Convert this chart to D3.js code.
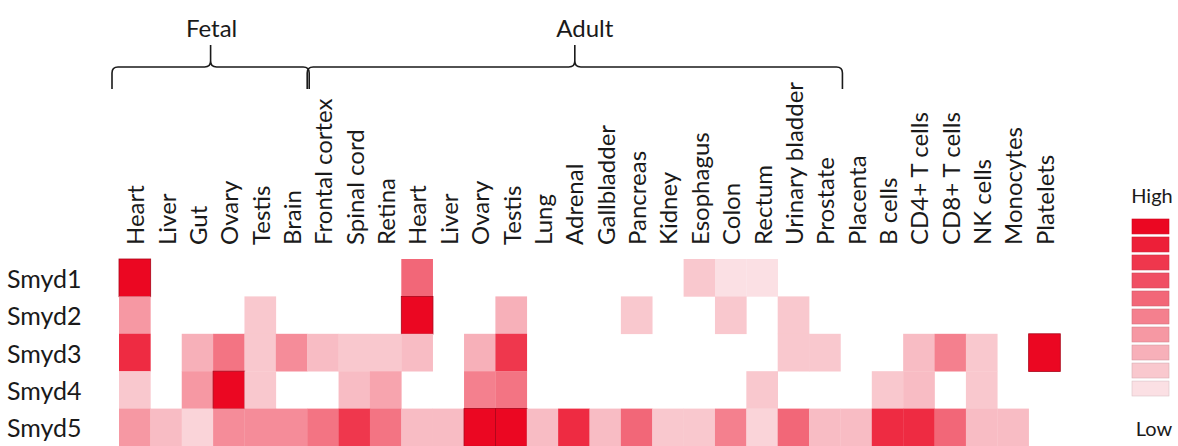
<!DOCTYPE html>
<html>
<head>
<meta charset="utf-8">
<script src="https://cdn.jsdelivr.net/npm/d3@7"></script>
<style>
  body { margin: 0; background: #fff; }
  text { font-family: Lato, "Open Sans", sans-serif; fill: #1a1a1a; }
</style>
</head>
<body>
<svg id="chart" width="1178" height="446"></svg>
<script>
const tissues = ["Heart", "Liver", "Gut", "Ovary", "Testis", "Brain",
  "Frontal cortex", "Spinal cord", "Retina", "Heart", "Liver", "Ovary", "Testis",
  "Lung", "Adrenal", "Gallbladder", "Pancreas", "Kidney", "Esophagus", "Colon",
  "Rectum", "Urinary bladder", "Prostate", "Placenta", "B cells", "CD4+ T cells",
  "CD8+ T cells", "NK cells", "Monocytes", "Platelets"];

const genes = ["Smyd1", "Smyd2", "Smyd3", "Smyd4", "Smyd5"];

// expression level 0 (none) .. 10 (high), one entry per tissue
const smyd1 = [10,0,0,0,0,0, 0,0,0,6,0,0,0, 0,0,0,0,0,2,1, 1,0,0,0,0,0, 0,0,0,0];
const smyd2 = [4,0,0,0,2,0, 0,0,0,10,0,0,3, 0,0,0,2,0,0,2, 0,2,0,0,0,0, 0,0,0,0];
const smyd3 = [8.5,0,3,5.5,2,4.5, 2.5,2,2,2.5,0,3,8, 0,0,0,0,0,0,0, 0,2,2,0,0,2.5, 5,2,0,10];
const smyd4 = [2,0,4,10,2,0, 0,2.5,3.5,0,0,5,5.5, 0,0,0,0,0,0,0, 2,0,0,0,2,2.5, 0,2,0,0];
const smyd5 = [4,2.5,1.5,4.5,4.5,4.5, 5.5,8,5.5,2.5,2.5,10,10, 2.5,8.5,2.5,6,2,2,5, 1.5,6,2.5,2.5,8.5,8.5, 6,2.5,2.5,0];

const groups = [
  { name: "Fetal", from: 0, to: 6 },
  { name: "Adult", from: 6, to: 23 }
];
const legendLevels = [10, 9, 8, 7, 6, 5, 4, 3, 2, 1];

const svg = d3.select("#chart");
const grid = { left: 119, right: 1060, top: 259, bottom: 446 };

const x = d3.scaleBand().domain(d3.range(tissues.length)).range([grid.left, grid.right]);
const y = d3.scaleBand().domain(genes).range([grid.top, grid.bottom]);
const color = d3.scaleLinear().domain([1, 10]).range(["#fbe0e4", "#eb0722"]).interpolate(d3.interpolateRgb);

const rows = [smyd1, smyd2, smyd3, smyd4, smyd5];
const cells = [];
rows.forEach((vals, r) => vals.forEach((v, c) => { if (v > 0) cells.push({ gene: genes[r], col: c, v }); }));

svg.append("g").selectAll("rect")
  .data(cells)
  .join("rect")
  .attr("x", d => x(d.col))
  .attr("y", d => y(d.gene))
  .attr("width", x.bandwidth() + 0.3)
  .attr("height", y.bandwidth() + 0.3)
  .attr("fill", d => color(d.v))
  .attr("stroke", d => d.v >= 9.5 ? d3.color(color(d.v)).darker(0.9) : "none")
  .attr("stroke-width", 0.8);

// row labels
svg.append("g").selectAll("text")
  .data(genes)
  .join("text")
  .attr("x", 7)
  .attr("y", d => y(d) + y.bandwidth() / 2)
  .attr("dominant-baseline", "central")
  .attr("font-size", 25)
  .text(d => d);

// column labels
svg.append("g").selectAll("text")
  .data(tissues)
  .join("text")
  .attr("transform", (d, i) => `translate(${x(i) + x.bandwidth() / 2},245) rotate(-90)`)
  .attr("dominant-baseline", "central")
  .attr("font-size", 24)
  .text(d => d);

// group braces
const braceY = 67, endY = 89, tipY = 45, r = 6;
const bg = svg.append("g");
groups.forEach((g, gi) => {
  const x0 = gi === 0 ? x(g.from) - 7 : x(g.from);
  const x1 = g.to < tissues.length ? x(g.to) + 2 : grid.right;
  const xm = (x0 + x1) / 2;
  const p = d3.path();
  p.moveTo(x0, endY);
  p.lineTo(x0, braceY + r);
  p.quadraticCurveTo(x0, braceY, x0 + r, braceY);
  p.lineTo(xm - r, braceY);
  p.quadraticCurveTo(xm, braceY, xm, braceY - r);
  p.lineTo(xm, tipY);
  p.moveTo(xm, braceY - r);
  p.quadraticCurveTo(xm, braceY, xm + r, braceY);
  p.lineTo(x1 - r, braceY);
  p.quadraticCurveTo(x1, braceY, x1, braceY + r);
  p.lineTo(x1, endY);
  bg.append("path").attr("d", p.toString())
    .attr("fill", "none").attr("stroke", "#1a1a1a").attr("stroke-width", 1.6);
  bg.append("text")
    .attr("x", xm + (gi === 0 ? 1 : 10))
    .attr("y", 27)
    .attr("text-anchor", "middle")
    .attr("dominant-baseline", "central")
    .attr("font-size", 24)
    .text(g.name);
});

// legend
const ly = d3.scaleBand().domain(legendLevels).range([219, 396]).paddingInner(0.17);
const lg = svg.append("g");
lg.selectAll("rect")
  .data(legendLevels)
  .join("rect")
  .attr("x", 1132)
  .attr("y", d => ly(d))
  .attr("width", 37)
  .attr("height", ly.bandwidth())
  .attr("fill", d => color(d))
  .attr("stroke", d => d3.color(color(d)).darker(0.4))
  .attr("stroke-width", 0.6);
lg.append("text").attr("x", 1152).attr("y", 195).attr("text-anchor", "middle")
  .attr("dominant-baseline", "central").attr("font-size", 20).text("High");
lg.append("text").attr("x", 1154).attr("y", 428).attr("text-anchor", "middle")
  .attr("dominant-baseline", "central").attr("font-size", 20).text("Low");
</script>
</body>
</html>
